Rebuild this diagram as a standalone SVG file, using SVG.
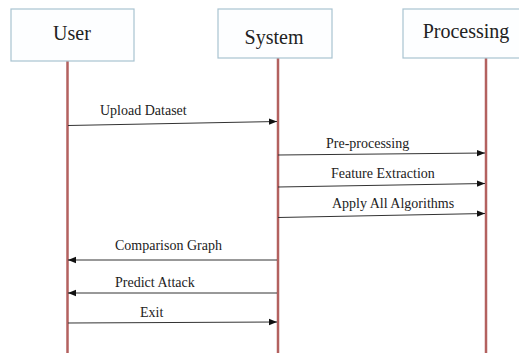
<svg xmlns="http://www.w3.org/2000/svg" width="519" height="353" viewBox="0 0 519 353">
  <style>
    .box { fill: #fdfeff; stroke: #a9c3d1; stroke-width: 1.2; }
    .title { font-family: "Liberation Serif", "Times New Roman", serif; font-size: 20px; fill: #222; text-anchor: middle; }
    .life { stroke: #b3615f; stroke-width: 2.5; fill: none; }
    .msg { stroke: #333; stroke-width: 1; fill: none; marker-end: url(#head); }
    .label { font-family: "Liberation Serif", "Times New Roman", serif; font-size: 14px; fill: #222; }
  </style>
  <defs>
    <marker id="head" viewBox="0 0 10 10" refX="10" refY="5" markerWidth="8" markerHeight="8" markerUnits="userSpaceOnUse" orient="auto">
      <path d="M0,1 L10,5 L0,9 Z" fill="#111"/>
    </marker>
  </defs>
  <rect width="519" height="353" fill="#ffffff"/>

  <!-- lifelines -->
  <g id="lifelines">
    <line class="life" x1="67.5" y1="61" x2="67.5" y2="353"/>
    <line class="life" x1="278" y1="58" x2="278" y2="353"/>
    <line class="life" x1="486" y1="58" x2="486" y2="353"/>
  </g>

  <!-- participants -->
  <g id="user">
    <rect class="box" x="11" y="9" width="123" height="52"/>
    <text class="title" x="72" y="40">User</text>
  </g>
  <g id="system">
    <rect class="box" x="218" y="9" width="114" height="49"/>
    <text class="title" x="274" y="44">System</text>
  </g>
  <g id="processing">
    <rect class="box" x="403" y="9" width="125" height="49"/>
    <text class="title" x="466" y="38">Processing</text>
  </g>

  <!-- messages -->
  <g id="connectors">
    <line class="msg" x1="68" y1="125.5" x2="277" y2="121.5"/>
    <line class="msg" x1="278" y1="155" x2="485" y2="153"/>
    <line class="msg" x1="278" y1="187" x2="485" y2="183.5"/>
    <line class="msg" x1="278" y1="217.5" x2="485" y2="213.5"/>
    <line class="msg" x1="277" y1="260" x2="68" y2="260"/>
    <line class="msg" x1="277" y1="293" x2="68" y2="293"/>
    <line class="msg" x1="68" y1="323" x2="277" y2="322"/>
  </g>

  <g id="labels">
    <text class="label" x="100" y="115">Upload Dataset</text>
    <text class="label" x="326" y="148">Pre-processing</text>
    <text class="label" x="331" y="178">Feature Extraction</text>
    <text class="label" x="332" y="208">Apply All Algorithms</text>
    <text class="label" x="115" y="250">Comparison Graph</text>
    <text class="label" x="115" y="287">Predict Attack</text>
    <text class="label" x="140" y="317">Exit</text>
  </g>
</svg>
